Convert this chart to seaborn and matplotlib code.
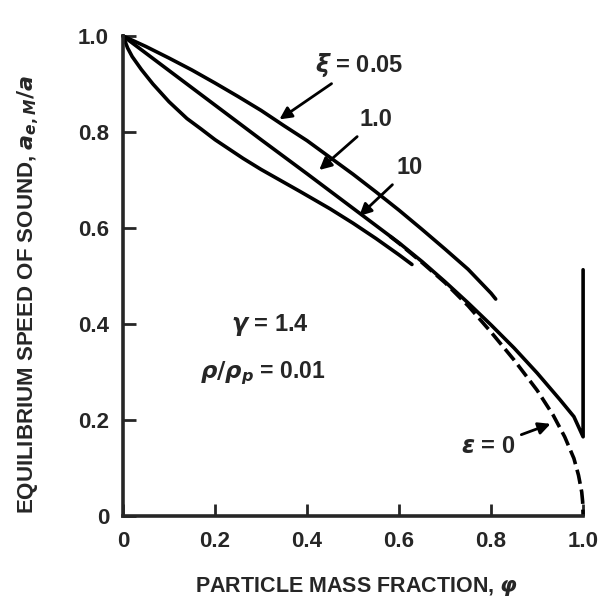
import numpy as np
import pandas as pd
import matplotlib
matplotlib.use('Agg')
import matplotlib.pyplot as plt
import seaborn as sns

# curves (x = particle mass fraction, y = a_e,M / a)
xi_005_x = [0.0, 0.05, 0.1, 0.15, 0.2, 0.25, 0.3, 0.35, 0.4, 0.45, 0.5, 0.55,
            0.6, 0.65, 0.7, 0.75, 0.8, 0.81]
xi_005_y = [1.0, 0.978, 0.954, 0.929, 0.902, 0.874, 0.845, 0.813, 0.782, 0.747,
            0.712, 0.675, 0.637, 0.597, 0.556, 0.514, 0.464, 0.452]

xi_1_x = [0.0, 0.1, 0.2, 0.3, 0.4, 0.5, 0.6, 0.65, 0.7, 0.75, 0.8, 0.85, 0.9,
          0.95, 0.98, 1.0, 1.0]
xi_1_y = [1.0, 0.928, 0.856, 0.784, 0.713, 0.641, 0.569, 0.53, 0.488, 0.444,
          0.398, 0.35, 0.298, 0.242, 0.207, 0.165, 0.513]

xi_10_x = [0.0, 0.01, 0.02, 0.04, 0.065, 0.1, 0.139, 0.17, 0.2, 0.261, 0.3,
           0.385, 0.45, 0.5, 0.55, 0.6, 0.628]
xi_10_y = [1.0, 0.975, 0.957, 0.93, 0.9, 0.863, 0.828, 0.806, 0.784, 0.745,
           0.722, 0.676, 0.64, 0.61, 0.578, 0.544, 0.524]

eps0_x = [0.58, 0.6, 0.65, 0.7, 0.75, 0.8, 0.85, 0.9, 0.935, 0.96, 0.98, 0.99,
          0.997, 0.999, 1.0]
eps0_y = [0.583, 0.568, 0.528, 0.486, 0.438, 0.383, 0.325, 0.262, 0.21, 0.165,
          0.12, 0.085, 0.05, 0.03, 0.0]

x_ticks = [0, 0.2, 0.4, 0.6, 0.8, 1.0]
x_tick_labels = ['0', '0.2', '0.4', '0.6', '0.8', '1.0']
y_ticks = [0, 0.2, 0.4, 0.6, 0.8, 1.0]
y_tick_labels = ['0', '0.2', '0.4', '0.6', '0.8', '1.0']

sns.set_style('ticks')
plt.rcParams['font.family'] = ['Liberation Sans', 'DejaVu Sans']
plt.rcParams['font.weight'] = 'bold'
plt.rcParams['mathtext.fontset'] = 'dejavusans'

fig = plt.figure(figsize=(6.03, 6.0), dpi=100)
ax = fig.add_axes([0.204, 0.14, 0.763, 0.80])

lw = 2.6
for xs, ys in [(xi_005_x, xi_005_y), (xi_1_x, xi_1_y), (xi_10_x, xi_10_y)]:
    d = pd.DataFrame({'x': xs, 'y': ys})
    sns.lineplot(data=d, x='x', y='y', sort=False, estimator=None,
                 color='black', lw=lw, ax=ax, clip_on=False,
                 solid_joinstyle='round')
d = pd.DataFrame({'x': eps0_x, 'y': eps0_y})
sns.lineplot(data=d, x='x', y='y', sort=False, estimator=None,
             color='black', lw=lw, ax=ax, linestyle=(0, (4, 1.6)), clip_on=False)

ax.set_xlim(0, 1.0)
ax.set_ylim(0, 1.0)
ax.set_xticks(x_ticks)
ax.set_xticklabels(x_tick_labels)
ax.set_yticks(y_ticks)
ax.set_yticklabels(y_tick_labels)
ax.tick_params(direction='in', length=9, width=2, labelsize=16)
ax.tick_params(axis='x', pad=11)
ax.tick_params(axis='y', pad=10)
for s in ['left', 'bottom']:
    ax.spines[s].set_linewidth(2.6)
sns.despine(ax=ax)

ax.set_xlabel(r'PARTICLE MASS FRACTION, $\varphi$', fontsize=15.5, fontweight='bold')
ax.set_ylabel(r'EQUILIBRIUM SPEED OF SOUND, $a_{e,M}/a$', fontsize=16, fontweight='bold')
ax.xaxis.set_label_coords(0.507, -0.122)
ax.yaxis.set_label_coords(-0.178, 0.462)

arrow = dict(arrowstyle='-|>', color='black', lw=2, mutation_scale=18)
ax.annotate(r'$\xi$ = 0.05', xy=(0.335, 0.823), xytext=(0.513, 0.94),
            fontsize=17, fontweight='bold', va='center', ha='center', arrowprops=arrow)
ax.annotate('1.0', xy=(0.422, 0.717), xytext=(0.55, 0.825),
            fontsize=17, fontweight='bold', va='center', ha='center', arrowprops=arrow)
ax.annotate('10', xy=(0.509, 0.621), xytext=(0.624, 0.725),
            fontsize=17, fontweight='bold', va='center', ha='center', arrowprops=arrow)
ax.annotate(r'$\epsilon$ = 0', xy=(0.935, 0.194), xytext=(0.794, 0.144),
            fontsize=17, fontweight='bold', va='center', ha='center', arrowprops=arrow)
ax.text(0.32, 0.398, r'$\gamma$ = 1.4', fontsize=17, fontweight='bold', ha='center', va='center')
ax.text(0.303, 0.298, r'$\rho/\rho_p$ = 0.01', fontsize=16.5, fontweight='bold', ha='center', va='center')

fig.savefig('out.png', dpi=100)
